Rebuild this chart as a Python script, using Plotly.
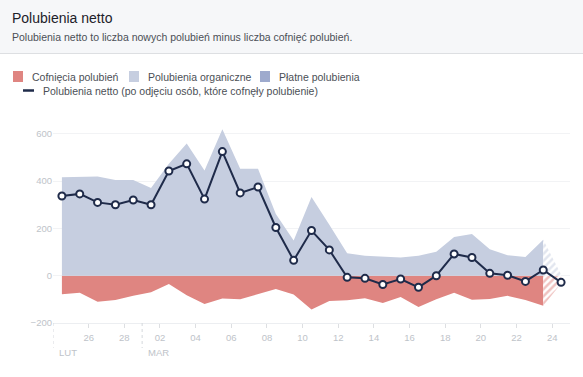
import pandas as pd
import plotly.graph_objects as go

# ---------------- data ----------------
days = list(pd.date_range("2015-02-24", "2015-03-24", freq="D"))
organic = [416, 418, 419, 405, 405, 371, 473, 559, 445, 619, 452, 452, 261, 149, 333,
           215, 95, 84, 79, 77, 84, 101, 164, 176, 112, 87, 79, 152, 5]
paid = [0] * 29
unlikes = [-78, -72, -110, -103, -85, -70, -35, -83, -120, -96, -100, -78, -56, -79, -143,
           -107, -104, -95, -115, -90, -132, -100, -72, -102, -99, -85, -103, -127, -33]
net = [337, 346, 310, 300, 320, 300, 443, 473, 324, 525, 350, 375, 204, 65, 191,
       109, -7, -11, -37, -14, -49, 0, 92, 77, 10, 2, -24, 24, -28]

tick_days = ["2015-02-26", "2015-02-28", "2015-03-02", "2015-03-04", "2015-03-06",
             "2015-03-08", "2015-03-10", "2015-03-12", "2015-03-14", "2015-03-16",
             "2015-03-18", "2015-03-20", "2015-03-22", "2015-03-24"]
tick_labels = ["26", "28", "02", "04", "06", "08", "10", "12", "14", "16", "18", "20", "22", "24"]
months = [("2015-02-24", "LUT"), ("2015-03-01", "MAR")]
y_ticks = [-200, 0, 200, 400, 600]

title = "Polubienia netto"
subtitle = "Polubienia netto to liczba nowych polubień minus liczba cofnięć polubień."
legend_items = ["Cofnięcia polubień", "Polubienia organiczne", "Płatne polubienia"]
line_label = "Polubienia netto (po odjęciu osób, które cofnęły polubienie)"

# ---------------- style ----------------
RED = "#df8581"
BLUE = "#c6cee0"
PAID = "#9eaacd"
NAVY = "#1f2b4a"
GRAY_TXT = "#bec3c9"
FONT = "Liberation Sans, Arial, Helvetica, sans-serif"

W, H = 583, 377
L, R, T, B = 53, 13, 122, 54
PW, PH = W - L - R, H - T - B


def fx(px):
    return (px - L) / PW


def fy(py):
    return (H - B - py) / PH


xs = [d + pd.Timedelta(hours=12) for d in days]
n = len(xs)

fig = go.Figure()

# solid areas (complete days)
fig.add_trace(go.Scatter(x=xs[:n - 1], y=unlikes[:n - 1], mode="lines", line=dict(width=0),
                         fill="tozeroy", fillcolor=RED, hoverinfo="skip", showlegend=False))
fig.add_trace(go.Scatter(x=xs[:n - 1], y=organic[:n - 1], mode="lines", line=dict(width=0),
                         fill="tozeroy", fillcolor=BLUE, hoverinfo="skip", showlegend=False))
# hatched areas (incomplete last day)
fig.add_trace(go.Scatter(x=xs[n - 2:], y=unlikes[n - 2:], mode="lines", line=dict(width=0),
                         fill="tozeroy",
                         fillpattern=dict(shape="/", fgcolor=RED, bgcolor="white", size=5, solidity=0.5),
                         hoverinfo="skip", showlegend=False))
fig.add_trace(go.Scatter(x=xs[n - 2:], y=organic[n - 2:], mode="lines", line=dict(width=0),
                         fill="tozeroy",
                         fillpattern=dict(shape="/", fgcolor=BLUE, bgcolor="white", size=5, solidity=0.5),
                         hoverinfo="skip", showlegend=False))
# net line
fig.add_trace(go.Scatter(x=xs, y=net, mode="lines+markers",
                         line=dict(color=NAVY, width=2),
                         marker=dict(symbol="circle", size=7, color="white",
                                     line=dict(color=NAVY, width=2)),
                         showlegend=False))

shapes = []
annotations = []

# header
shapes.append(dict(type="rect", xref="paper", yref="paper", x0=fx(0), x1=fx(W), y0=fy(53.5), y1=fy(0),
                   fillcolor="#f6f7f9", line=dict(width=0), layer="below"))
shapes.append(dict(type="line", xref="paper", yref="paper", x0=fx(0), x1=fx(W), y0=fy(53.5), y1=fy(53.5),
                   line=dict(color="#dddfe2", width=1)))
annotations.append(dict(text=title, xref="paper", yref="paper", x=fx(10), y=fy(17.5),
                        xanchor="left", yanchor="middle", showarrow=False,
                        font=dict(family=FONT, size=14, color="#1d2129")))
annotations.append(dict(text=subtitle, xref="paper", yref="paper", x=fx(10), y=fy(36.5),
                        xanchor="left", yanchor="middle", showarrow=False,
                        font=dict(family=FONT, size=10.5, color="#4b4f56")))

# legend (manual)
legend_colors = [RED, BLUE, PAID]
sw_x = [13, 129, 260]
for name, col, x0 in zip(legend_items, legend_colors, sw_x):
    shapes.append(dict(type="rect", xref="paper", yref="paper", x0=fx(x0), x1=fx(x0 + 10),
                       y0=fy(82), y1=fy(71), fillcolor=col, line=dict(width=0)))
    annotations.append(dict(text=name, xref="paper", yref="paper", x=fx(x0 + 17), y=fy(76.5),
                            xanchor="left", yanchor="middle", showarrow=False,
                            font=dict(family=FONT, size=10.5, color="#4b4f56")))
shapes.append(dict(type="line", xref="paper", yref="paper", x0=fx(23), x1=fx(34), y0=fy(90.5), y1=fy(90.5),
                   line=dict(color=NAVY, width=2.5)))
annotations.append(dict(text=line_label, xref="paper", yref="paper", x=fx(41), y=fy(90.5),
                        xanchor="left", yanchor="middle", showarrow=False,
                        font=dict(family=FONT, size=10.5, color="#4b4f56")))

# month separators and labels
for d, lab in months:
    shapes.append(dict(type="line", xref="x", yref="paper", x0=d, x1=d, y0=0, y1=fy(348),
                       line=dict(color="#d5d8dd", width=1, dash="dot")))
    annotations.append(dict(text=lab, xref="x", yref="paper", x=d, y=fy(352.5), xshift=4,
                            xanchor="left", yanchor="middle", showarrow=False,
                            font=dict(family=FONT, size=9.5, color=GRAY_TXT)))

fig.update_layout(
    width=W, height=H,
    margin=dict(l=L, r=R, t=T, b=B, pad=0),
    paper_bgcolor="white", plot_bgcolor="white",
    shapes=shapes, annotations=annotations,
    font=dict(family=FONT, color=GRAY_TXT),
    xaxis=dict(type="date", range=["2015-02-24", "2015-03-25"],
               tickvals=tick_days, ticktext=tick_labels,
               ticks="outside", ticklen=4, tickcolor="#dddfe2", tickwidth=1,
               ticklabelstandoff=2,
               showline=True, linecolor="#eceef1", linewidth=1,
               showgrid=False, zeroline=False,
               tickfont=dict(family=FONT, size=9.5, color=GRAY_TXT)),
    yaxis=dict(range=[-200, 650], tickvals=y_ticks,
               showgrid=True, gridcolor="#f2f3f5", gridwidth=1,
               zeroline=False, showline=False, ticks="",
               tickfont=dict(family=FONT, size=9.5, color=GRAY_TXT)),
)

fig.write_html("out.html", config={"displayModeBar": False},
               post_script="document.body.style.margin='0';document.body.style.overflow='hidden';")
